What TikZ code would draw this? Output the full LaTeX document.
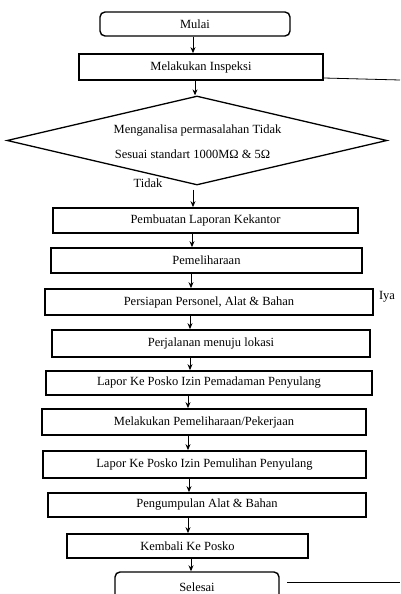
\documentclass[tikz,border=0pt]{standalone}
\usepackage{fontspec}
\setmainfont{Liberation Serif}
\usetikzlibrary{shapes.geometric,arrows.meta}
\begin{document}
\begin{tikzpicture}[x=1pt,y=-1pt,
  every node/.style={font=\fontsize{12.5}{15}\selectfont},
  procbox/.style={draw=black,line width=1.7pt,inner sep=0pt,anchor=center},
  termbox/.style={procbox,rounded corners=5pt,line width=1.4pt},
  arr/.style={line width=0.9pt,-{Stealth[length=6pt,width=5pt]}},
  plainline/.style={line width=0.8pt},
  lbl/.style={inner sep=0pt}]
\useasboundingbox (0,0) rectangle (400,594);
\fill[white] (0,0) rectangle (400,594);

\node[termbox,minimum width=190pt,minimum height=24pt] (mulai) at (195,24) {Mulai};
\node[procbox,minimum width=244pt,minimum height=26pt] (insp) at (201,67) {Melakukan Inspeksi};
\node[draw=black,line width=1.3pt,diamond,inner sep=0pt,minimum width=380pt,minimum height=89pt,text width=0pt] (dia) at (197,140.5) {};
\node[lbl] (dt1) at (197.5,131) {Menganalisa permasalahan Tidak};
\node[lbl] (dt2) at (192.5,154) {Sesuai standart 1000M\symbol{"03A9} \& 5\symbol{"03A9}};
\node[lbl] (tidak) at (148,183) {Tidak};
\node[procbox,minimum width=305pt,minimum height=25pt] (pemb) at (205.5,220.5) {Pembuatan Laporan Kekantor};
\node[procbox,minimum width=311pt,minimum height=25pt] (peml) at (206.5,260.5) {Pemeliharaan};
\node[procbox,minimum width=328pt,minimum height=26pt] (pers) at (209,302) {Persiapan Personel, Alat \& Bahan};
\node[lbl] (iya) at (387,297) {Iya};
\node[procbox,minimum width=318pt,minimum height=27pt] (perj) at (211,343.5) {Perjalanan menuju lokasi};
\node[procbox,minimum width=326pt,minimum height=24pt] (lap1) at (209,383) {Lapor Ke Posko Izin Pemadaman Penyulang};
\node[procbox,minimum width=324pt,minimum height=26pt] (mel) at (204,422) {Melakukan Pemeliharaan/Pekerjaan};
\node[procbox,minimum width=323pt,minimum height=27pt] (lap2) at (204.5,464.5) {Lapor Ke Posko Izin Pemulihan Penyulang};
\node[procbox,minimum width=318pt,minimum height=24pt] (peng) at (207,505) {Pengumpulan Alat \& Bahan};
\node[procbox,minimum width=241pt,minimum height=24pt] (kemb) at (187.5,546) {Kembali Ke Posko};
\node[termbox,minimum width=164pt,minimum height=30pt] (sel) at (197,587) {Selesai};

\coordinate (edge1) at (400,80);
\coordinate (edge2) at (400,582);
\coordinate (selout) at (287,582);

\draw[arr] (mulai.south -| 193,0) -- (insp.north -| 193,0);
\draw[arr] (insp.south -| 195,0) -- (dia.north -| 195,0);
\draw[arr] ([yshift=-4pt]dia.south -| 193,0) -- (pemb.north -| 193,0);
\draw[arr] (pemb.south -| 192,0) -- (peml.north -| 192,0);
\draw[arr] (peml.south -| 191,0) -- (pers.north -| 191,0);
\draw[arr] (pers.south -| 190,0) -- (perj.north -| 190,0);
\draw[arr] (perj.south -| 190,0) -- (lap1.north -| 190,0);
\draw[arr] (lap1.south -| 188,0) -- (mel.north -| 188,0);
\draw[arr] (mel.south -| 188,0) -- (lap2.north -| 188,0);
\draw[arr] (lap2.south -| 189,0) -- (peng.north -| 189,0);
\draw[arr] (peng.south -| 188,0) -- (kemb.north -| 188,0);
\draw[arr] (kemb.south -| 191,0) -- (sel.north -| 191,0);

\draw[plainline] ([yshift=-11pt]insp.east) -- (edge1);
\draw[plainline] (selout) -- (edge2);
\end{tikzpicture}
\end{document}
